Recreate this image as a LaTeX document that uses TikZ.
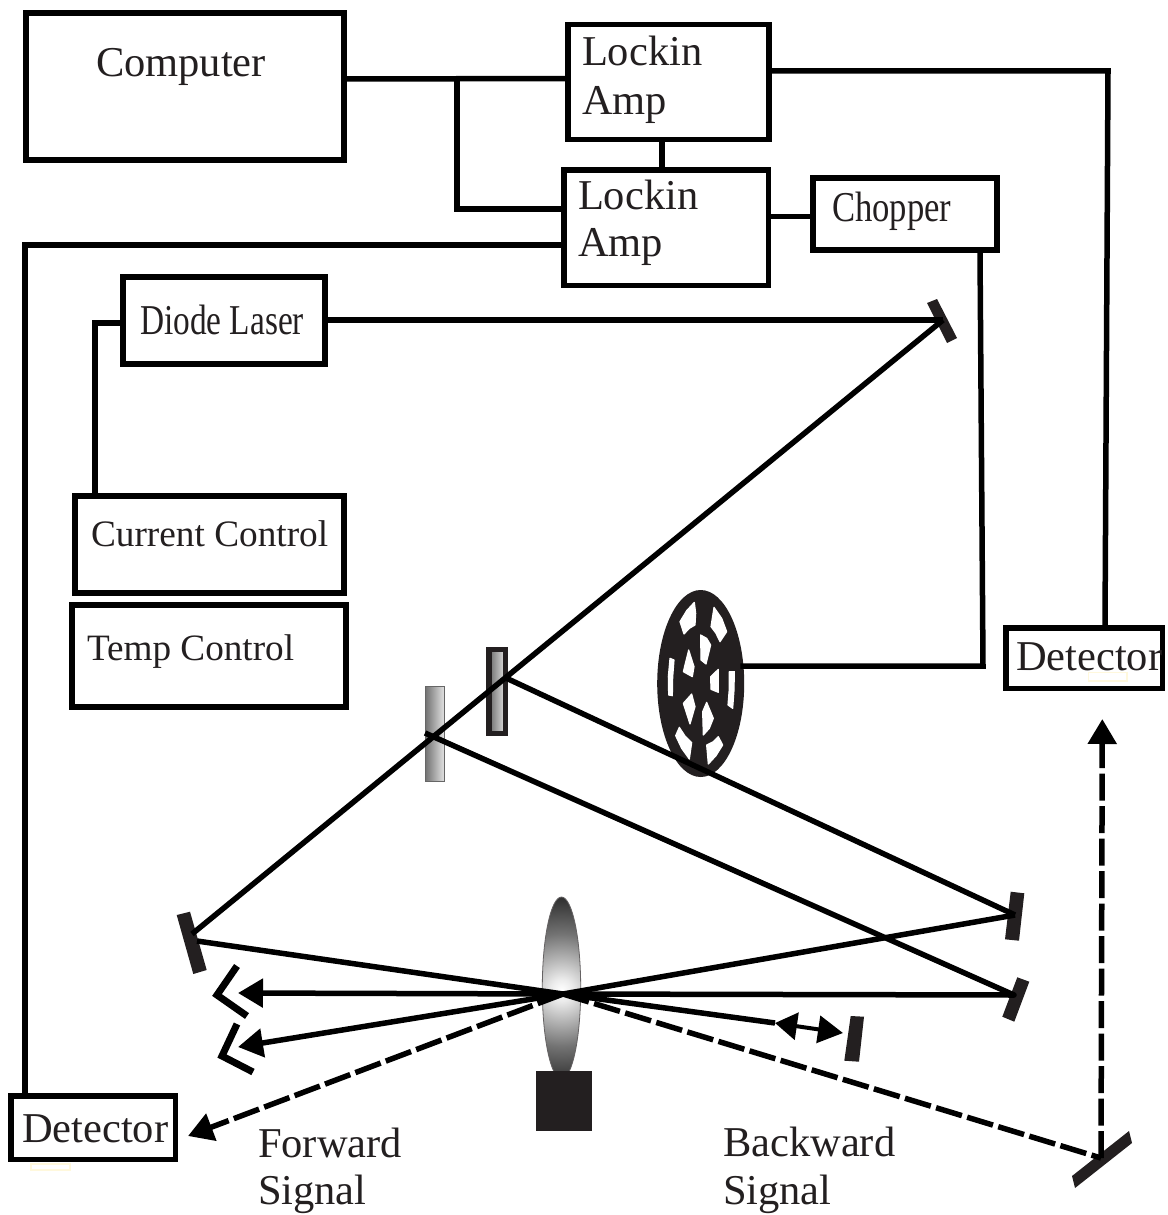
\documentclass[tikz,border=0pt]{standalone}
\usepackage{fontspec}
\usepackage{graphicx}
\setmainfont{Liberation Serif}
\usetikzlibrary{arrows.meta,shapes.geometric}
\definecolor{ink}{HTML}{231F20}
\definecolor{tag}{HTML}{FFF8DC}
\pgfdeclareradialshading{lensglow}{\pgfpoint{0bp}{0bp}}{color(0bp)=(white); color(3bp)=(black!8); color(8bp)=(black!28); color(15bp)=(black!55); color(24bp)=(black!80); color(50bp)=(black!85)}
\tikzset{
  x=1pt,y=-1pt,
  boxnode/.style={draw=black,line width=5.5pt,rectangle,inner sep=0pt,fill=white},
  wire/.style={draw=black,line width=5.5pt},
  beam/.style={draw=black,line width=5.5pt,line join=round},
  dashbeam/.style={draw=black,line width=5.5pt,dash pattern=on 27pt off 5.5pt},
  trap/.style={draw=black,line width=7pt,miter limit=10},
  bigtip/.style={-{Triangle[length=25pt,width=28pt]}},
  txt/.style={anchor=base west,inner sep=0pt,outer sep=0pt,font=\fontsize{42.5}{48}\selectfont,text=ink},
  tagbox/.style={draw=tag,line width=1.5pt,fill=white},
  hole/.style={fill=white,draw=white,line width=1.2pt,line join=round}
}
\begin{document}
\begin{tikzpicture}
\useasboundingbox (0,0) rectangle (1167,1215);
% boxes
\node[boxnode,minimum width=318pt,minimum height=147pt] (computer) at (185,86.5) {};
\node[boxnode,minimum width=201pt,minimum height=114.5pt] (lockinA) at (668.5,82) {};
\node[boxnode,minimum width=204.5pt,minimum height=115.5pt] (lockinB) at (666,227.5) {};
\node[boxnode,minimum width=184pt,minimum height=72pt] (chopper) at (905,214) {};
\node[boxnode,minimum width=202pt,minimum height=87pt] (diode) at (224,320.5) {};
\node[boxnode,minimum width=269pt,minimum height=97pt] (current) at (209.5,544.5) {};
\node[boxnode,minimum width=274pt,minimum height=102pt] (temp) at (209,656) {};
\node[boxnode,minimum width=156.5pt,minimum height=60.5pt] (detR) at (1084,658) {};
\node[boxnode,minimum width=164.5pt,minimum height=63.5pt] (detL) at (93,1127.5) {};
\node[ellipse,fill=ink,inner sep=0pt,minimum width=87pt,minimum height=187pt] (wheel) at (700.7,683.5) {};
% tag marks
\draw[tagbox] (1088.5,672.5) rectangle (1127,681);
\draw[tagbox] (31,1164) rectangle (70,1170);
% chopper wheel holes
\begin{scope}[shift={(640,570)},scale=1/3]
\draw[hole] (120,155)--(140,122)--(163,97)--(167,130)--(165,165)--(148,175)--(132,192)--cycle;
\draw[hole] (222,112)--(245,145)--(260,185)--(240,215)--(228,190)--(213,170)--cycle;
\draw[hole] (268,305)--(283,305)--(282,360)--(278,415)--(264,405)--(268,355)--cycle;
\draw[hole] (235,500)--(248,525)--(228,557)--(205,582)--(200,525)--(220,515)--cycle;
\draw[hole] (107,497)--(118,472)--(135,498)--(155,518)--(148,567)--(125,535)--cycle;
\draw[hole] (90,265)--(102,270)--(98,322)--(97,377)--(86,375)--(85,320)--cycle;
\draw[hole] (182,195)--(200,205)--(212,225)--(198,282)--(183,270)--cycle;
\draw[hole] (146,240)--(162,290)--(157,320)--(130,305)--cycle;
\draw[hole] (235,298)--(235,367)--(213,358)--(212,320)--cycle;
\draw[hole] (200,397)--(220,445)--(208,475)--(190,495)--(188,425)--cycle;
\draw[hole] (155,372)--(165,410)--(150,462)--(130,400)--cycle;
\end{scope}
% beam splitters
\shade[left color=black!55,right color=black!12,draw=black!60,line width=.8pt] (425.5,686) rectangle (444,781);
\shade[left color=black!55,right color=black!12] (490,650) rectangle (505,734);
\draw[ink,line width=5.5pt] (489,649.5) rectangle (505.5,733.5);
% lens
\begin{scope}
\clip (561.5,988) ellipse [x radius=19.2,y radius=91];
\shade[shading=lensglow] (561.5,990) circle [radius=94];
\end{scope}
\draw[ink!70,line width=.8pt] (561.5,988) ellipse [x radius=19.2,y radius=91];
\fill[ink] (536,1071) rectangle (592,1131);
% optical points
\coordinate (mA) at (943,320);
\coordinate (mB) at (197,941);
\coordinate (mBin) at (192,934);
\coordinate (focus) at (563,994);
\coordinate (mC) at (1015,915);
\coordinate (mD) at (1014,995);
\coordinate (bsA) at (506,678);
\coordinate (bsB) at (425,733);
\coordinate (mE) at (1101,1158);
\coordinate (dblA) at (775,1023);
\coordinate (dblB) at (843,1033);
% mirrors
\fill[ink] (927,303)--(937,299)--(957,338)--(947,343)--cycle;
\fill[ink] (176.7,915)--(190,911.7)--(206.7,970)--(193.3,974)--cycle;
\fill[ink] (1010.7,891.7)--(1024.3,893.3)--(1019,940.7)--(1005,939.3)--cycle;
\fill[ink] (1017.3,977.3)--(1029.3,981.7)--(1014.3,1021.7)--(1002.3,1016.7)--cycle;
\fill[ink] (850.7,1016)--(864,1016.7)--(859,1061.7)--(844.3,1060.7)--cycle;
\fill[ink] (1129,1131)--(1132,1143)--(1075,1188)--(1072,1176)--cycle;
% wiring
\draw[wire] (computer.east |- 0,79) -- (lockinA.west |- 0,78.5);
\coordinate (tee) at (457,79);
\draw[wire] (tee) |- (lockinB.west |- 0,209);
\draw[wire] (lockinA.south -| 662,0) -- (lockinB.north -| 662,0);
\draw[wire] (lockinA.east |- 0,71) -- (1108,71) -- (detR.north -| 1105,0);
\draw[wire] (lockinB.east |- 0,216.5) -- (chopper.west |- 0,216.5);
\draw[wire] (lockinB.west |- 0,245) -- (25,245) -- (detL.north -| 25,0);
\draw[wire] (chopper.south -| 980,0) -- (983,666) -- ([xshift=-4pt]wheel.east |- 0,666);
\draw[wire] (diode.west |- 0,323) -- (95,323) -- (current.north -| 95,0);
% beams
\draw[beam] (diode.east |- 0,320) -- (mA);
\draw[beam] (mA) -- (mBin);
\draw[beam] (mB) -- (focus) -- (mC);
\draw[beam] (bsA) -- (mC);
\draw[beam] (bsB) -- (mD) -- (focus);
\draw[beam,bigtip] (focus) -- (238,993);
\draw[beam,bigtip] (focus) -- (238,1047);
\draw[beam] (focus) -- (dblA);
\draw[draw=black,line width=4pt,{Triangle[length=22pt,width=27pt]}-{Triangle[length=25pt,width=27pt]}] (dblA) -- (dblB);
\draw[dashbeam,bigtip] (focus) -- (188,1136);
\draw[dashbeam] (focus) -- (mE);
\draw[dashbeam,bigtip] (mE) -- (1102.3,719);
% beam traps
\draw[trap] (237,966) -- (217,995) -- (247,1016);
\draw[trap] (237,1024) -- (222,1056) -- (253,1072);
% text
\node[txt] (tComputer) at (96,77) {Computer};
\node[txt] (tLockA) at (582,66) {Lockin};
\node[txt] (tAmpA) at (582,114) {Amp};
\node[txt] (tLockB) at (578,209) {Lockin};
\node[txt] (tAmpB) at (578,256) {Amp};
\node[txt] (tChopper) at (832,221) {\scalebox{.815}[1]{Chopper}};
\node[txt] (tDiode) at (140,334) {\scalebox{.785}[1]{Diode Laser}};
\node[txt,font=\fontsize{37.3}{44}\selectfont] (tCurrent) at (91,546) {Current Control};
\node[txt,font=\fontsize{37.2}{44}\selectfont] (tTemp) at (87,660) {Temp Control};
\node[txt] (tDetR) at (1016,670) {Detector};
\node[txt] (tDetL) at (22,1142) {Detector};
\node[txt] (tFwd) at (258,1157) {Forward};
\node[txt] (tFwdS) at (258,1204) {Signal};
\node[txt] (tBwd) at (723,1156) {Backward};
\node[txt] (tBwdS) at (723,1204) {Signal};
\end{tikzpicture}
\end{document}
